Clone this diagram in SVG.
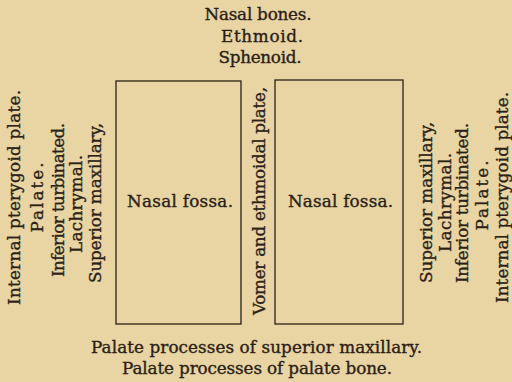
<svg xmlns="http://www.w3.org/2000/svg" width="512" height="382" viewBox="0 0 512 382">
<style>
.bg{fill:#e8d5a3}
text{font-family:"DejaVu Serif","Liberation Serif",serif;font-size:16.8px;fill:#2a2016;stroke:#2a2016;stroke-width:0.35;text-anchor:middle}
.box{fill:none;stroke:#2a2016;stroke-width:1.3}
</style>
<rect class="bg" x="0" y="0" width="512" height="382"/>
<g id="top-labels">
<text x="258" y="20" textLength="107">Nasal bones.</text>
<text x="262" y="41.5" textLength="82">Ethmoid.</text>
<text x="260" y="63" textLength="83">Sphenoid.</text>
</g>
<g id="left-fossa">
<rect class="box" x="116" y="81" width="125" height="243"/>
<text x="180" y="207" textLength="106">Nasal fossa.</text>
</g>
<g id="right-fossa">
<rect class="box" x="275" y="80" width="128" height="244"/>
<text x="340.5" y="207" textLength="105">Nasal fossa.</text>
</g>
<g id="septum">
<text transform="translate(265,201) rotate(-90)" textLength="228">Vomer and ethmoidal plate,</text>
</g>
<g id="left-labels">
<text transform="translate(19.5,197.5) rotate(-90)" textLength="215">Internal pterygoid plate.</text>
<text transform="translate(43,197.5) rotate(-90)" textLength="70">Palate.</text>
<text transform="translate(63.5,200) rotate(-90)" textLength="154">Inferior turbinated.</text>
<text transform="translate(82,204) rotate(-90)" textLength="98">Lachrymal.</text>
<text transform="translate(100.5,203) rotate(-90)" textLength="160">Superior maxillary,</text>
</g>
<g id="right-labels">
<text transform="translate(432,202.5) rotate(-90)" textLength="161">Superior maxillary,</text>
<text transform="translate(451,202.5) rotate(-90)" textLength="99">Lachrymal.</text>
<text transform="translate(468,203) rotate(-90)" textLength="160">Inferior turbinated.</text>
<text transform="translate(488,195.5) rotate(-90)" textLength="70">Palate.</text>
<text transform="translate(508,197.5) rotate(-90)" textLength="211">Internal pterygoid plate.</text>
</g>
<g id="bottom-labels">
<text x="256.5" y="353" textLength="331">Palate processes of superior maxillary.</text>
<text x="257" y="374" textLength="270">Palate processes of palate bone.</text>
</g>
</svg>
